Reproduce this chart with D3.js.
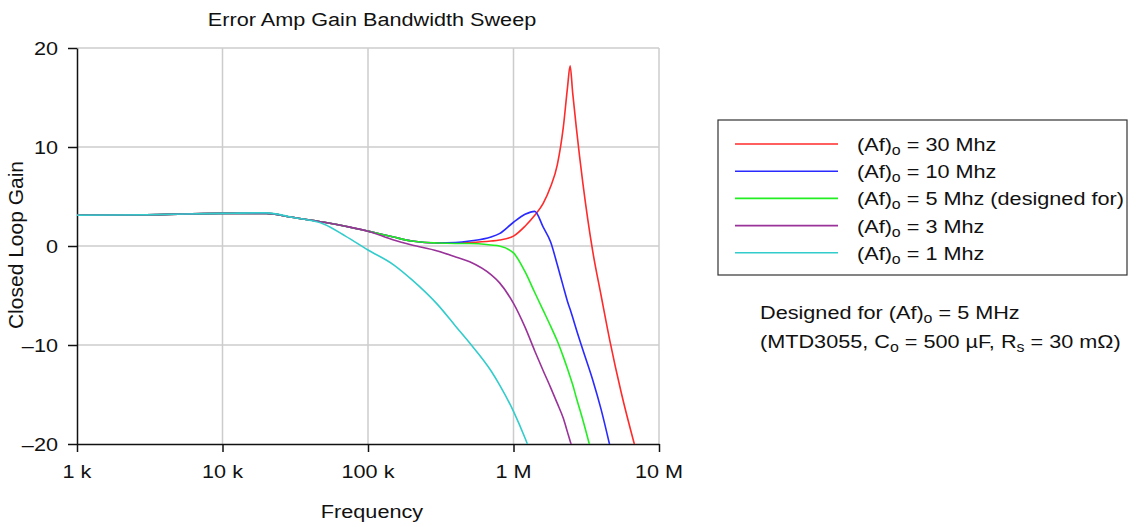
<!DOCTYPE html>
<html>
<head>
<meta charset="utf-8">
<script src="https://cdn.jsdelivr.net/npm/d3@7"></script>
<style>
  body { margin: 0; background: #fff; }
  text { font-family: "Liberation Sans", Arial, sans-serif; fill: #111; }
</style>
</head>
<body>
<div id="viz"></div>
<script>
var width = 1146
var height = 527

// frequencies (Hz) shared by all series
var freqs = [1e3, 3e3, 1e4, 2e4, 3e4, 5e4, 7e4, 1e5, 1.5e5, 2e5, 3e5, 4e5, 5e5, 7e5, 8e5, 1e6,
  1.2e6, 1.4e6, 1.6e6, 1.8e6, 2e6, 2.2e6, 2.35e6, 2.45e6, 2.55e6, 2.7e6, 3e6, 3.5e6, 4e6, 4.6e6, 5.5e6, 7e6];

// closed loop gain (dB)
var gain30 = [3.1, 3.15, 3.3, 3.3, 2.9, 2.4, 2.0, 1.5, 0.9, 0.5, 0.3, 0.3, 0.35, 0.5, 0.6, 1.0,
  2.0, 3.1, 4.3, 6.0, 8.2, 12, 16, 18.2, 15.5, 12, 6.3, -0.5, -5, -9.6, -14.8, -20.8];
var gain10 = [3.1, 3.15, 3.3, 3.3, 2.9, 2.4, 2.0, 1.5, 0.9, 0.5, 0.3, 0.35, 0.5, 0.9, 1.25, 2.4,
  3.2, 3.5, 1.9, 0.4, -1.9, -4.1, -5.6, -6.4, -7.2, -8.4, -10.5, -13.5, -16.5, -20.2, null, null];
var gain5 = [3.1, 3.15, 3.3, 3.3, 2.9, 2.4, 2.0, 1.5, 0.9, 0.5, 0.3, 0.25, 0.25, 0.1, 0.0, -0.7,
  -2.6, -4.7, -6.5, -8.1, -9.6, -11.2, -12.4, -13.2, -14.0, -15.3, -17.6, -21.3, null, null, null, null];
var gain3 = [3.1, 3.15, 3.3, 3.3, 2.9, 2.4, 2.0, 1.5, 0.6, 0.1, -0.5, -1.1, -1.6, -2.9, -3.7, -5.8,
  -8.2, -10.6, -12.6, -14.3, -15.9, -17.4, -18.8, -19.7, -20.5, null, null, null, null, null, null, null];
var gain1 = [3.1, 3.15, 3.3, 3.35, 2.9, 2.2, 1.0, -0.4, -1.9, -3.4, -5.9, -8.1, -9.8, -12.6, -14.0, -16.7,
  -19.4, -22.0, null, null, null, null, null, null, null, null, null, null, null, null, null, null];

var seriesNames = ["30 Mhz", "10 Mhz", "5 Mhz (designed for)", "3 Mhz", "1 Mhz"];
var seriesColors = ["#ff2a2a", "#2a2aff", "#22ee22", "#993399", "#33cccc"];
var seriesValues = [gain30, gain10, gain5, gain3, gain1];

var yTicks = [-20, -10, 0, 10, 20];
var yTickLabels = ["\u201320", "\u201310", "0", "10", "20"];
var xTicks = [1e3, 1e4, 1e5, 1e6, 1e7];
var xTickLabels = ["1 k", "10 k", "100 k", "1 M", "10 M"];

var SX = 1.14; // text is drawn a bit wide, like the reference
var FS = 19;

var svg = d3.select("#viz")
  .append("svg")
  .attr("width", width)
  .attr("height", height);

var pLeft = 77, pRight = 659, pTop = 48, pBottom = 444;

var x = d3.scaleLog().domain([1e3, 1e7]).range([pLeft, pRight]);
var y = d3.scaleLinear().domain([-20, 20]).range([pBottom, pTop]);

function label(txt, px, py, anchor) {
  return svg.append("text")
    .attr("transform", "translate(" + px + "," + py + ") scale(" + SX + ",1)")
    .attr("text-anchor", anchor || "start")
    .style("font-size", FS + "px")
    .text(txt);
}

// grid
svg.append("g").selectAll("line")
  .data(xTicks.slice(1))
  .enter().append("line")
    .attr("x1", d => x(d)).attr("x2", d => x(d))
    .attr("y1", pTop).attr("y2", pBottom)
    .style("stroke", "#cccccc").style("stroke-width", 1.5);
svg.append("g").selectAll("line")
  .data(yTicks.slice(1))
  .enter().append("line")
    .attr("x1", pLeft).attr("x2", pRight)
    .attr("y1", d => y(d)).attr("y2", d => y(d))
    .style("stroke", "#cccccc").style("stroke-width", 1.5);

// axes
svg.append("g")
  .attr("transform", "translate(" + pLeft + ",0)")
  .call(d3.axisLeft(y).tickValues(yTicks).tickSize(9).tickSizeOuter(0).tickFormat(""))
  .call(g => g.selectAll("line,path").style("stroke", "#111").style("stroke-width", 1.5));
svg.append("g")
  .attr("transform", "translate(0," + pBottom + ")")
  .call(d3.axisBottom(x).tickValues(xTicks).tickSize(8).tickSizeOuter(0).tickFormat(""))
  .call(g => g.selectAll("line,path").style("stroke", "#111").style("stroke-width", 1.5));

yTicks.forEach((t, i) => label(yTickLabels[i], 58, y(t) + 7, "end"));
xTicks.forEach((t, i) => label(xTickLabels[i], x(t), 478, "middle"));

// lines
svg.append("clipPath").attr("id", "plot")
  .append("rect").attr("x", pLeft).attr("y", pTop).attr("width", pRight - pLeft).attr("height", pBottom - pTop);

var line = d3.line()
  .defined(d => d[1] != null)
  .x(d => x(d[0]))
  .y(d => y(d[1]))
  .curve(d3.curveMonotoneX);

svg.append("g")
  .attr("clip-path", "url(#plot)")
  .selectAll("path")
  .data(seriesValues)
  .enter().append("path")
    .attr("fill", "none")
    .attr("stroke", (d, i) => seriesColors[i])
    .attr("stroke-width", 1.6)
    .attr("d", d => line(freqs.map((f, j) => [f, d[j]])));

// titles
label("Error Amp Gain Bandwidth Sweep", 372, 26, "middle");
label("Frequency", 372, 518, "middle");
svg.append("text")
  .attr("transform", "translate(23,245) rotate(-90)")
  .attr("text-anchor", "middle")
  .style("font-size", "21px")
  .text("Closed Loop Gain");

// legend
svg.append("rect")
  .attr("x", 718).attr("y", 120).attr("width", 409).attr("height", 155)
  .attr("fill", "none").attr("stroke", "#333").attr("stroke-width", 1.2);

var rows = svg.append("g").selectAll("g")
  .data(seriesNames)
  .enter().append("g")
    .attr("transform", (d, i) => "translate(0," + (144 + i * 27.2) + ")");
rows.append("line")
  .attr("x1", 735).attr("x2", 838)
  .attr("stroke", (d, i) => seriesColors[i])
  .attr("stroke-width", 1.6);
var rt = rows.append("text")
  .attr("transform", "translate(857,7) scale(" + SX + ",1)")
  .style("font-size", FS + "px");
rt.append("tspan").text("(Af)");
rt.append("tspan").attr("dy", 4).style("font-size", "14px").text("o");
rt.append("tspan").attr("dy", -4).text(d => " = " + d);

// note
var n1 = label("Designed for (Af)", 760, 319);
n1.append("tspan").attr("dy", 4).style("font-size", "14px").text("o");
n1.append("tspan").attr("dy", -4).text(" = 5 MHz");
var n2 = label("(MTD3055, C", 760, 348);
n2.append("tspan").attr("dy", 4).style("font-size", "14px").text("o");
n2.append("tspan").attr("dy", -4).text(" = 500 \u00b5F, R");
n2.append("tspan").attr("dy", 4).style("font-size", "14px").text("s");
n2.append("tspan").attr("dy", -4).text(" = 30 m\u03a9)");
</script>
</body>
</html>
